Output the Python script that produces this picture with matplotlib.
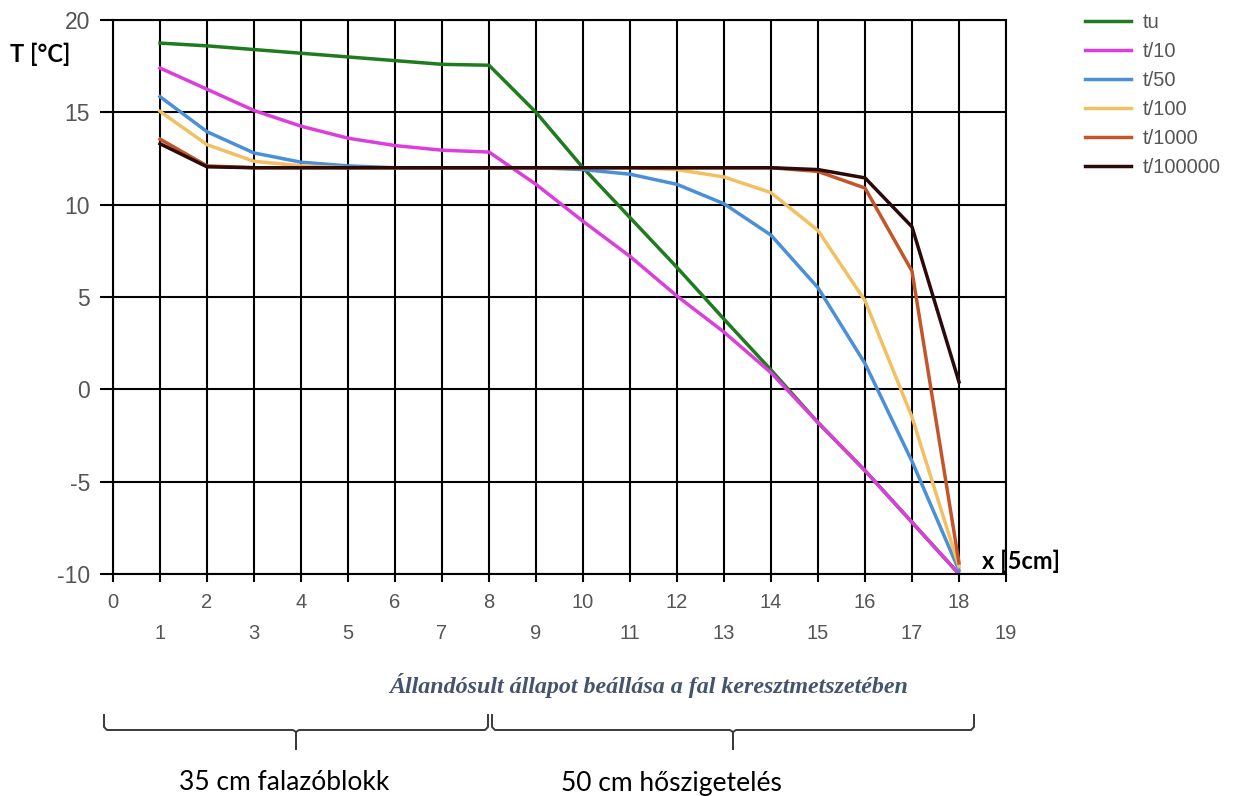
import matplotlib.pyplot as plt
import numpy as np

plt.rcParams["font.family"] = "Liberation Sans"
plt.rcParams["axes.unicode_minus"] = False

x = list(range(1, 19))

tu = [18.75, 18.6, 18.4, 18.2, 18.0, 17.8, 17.6, 17.55, 15.0, 12.0,
      9.3, 6.6, 3.8, 1.05, -1.8, -4.4, -7.2, -10.0]
t10 = [17.4, 16.25, 15.1, 14.25, 13.6, 13.2, 12.95, 12.85, 11.1, 9.1,
       7.2, 5.05, 3.1, 0.9, -1.8, -4.4, -7.2, -10.0]
t50 = [15.85, 13.95, 12.8, 12.3, 12.1, 12.0, 12.0, 12.0, 12.0, 11.9,
       11.65, 11.1, 10.05, 8.35, 5.5, 1.4, -3.9, -9.8]
t100 = [15.05, 13.25, 12.35, 12.1, 12.0, 12.0, 12.0, 12.0, 12.0, 12.0,
        12.0, 11.9, 11.5, 10.65, 8.6, 4.8, -1.5, -9.6]
t1000 = [13.55, 12.1, 12.0, 12.0, 12.0, 12.0, 12.0, 12.0, 12.0, 12.0,
         12.0, 12.0, 12.0, 12.0, 11.8, 10.9, 6.4, -9.4]
t100000 = [13.3, 12.05, 12.0, 12.0, 12.0, 12.0, 12.0, 12.0, 12.0, 12.0,
           12.0, 12.0, 12.0, 12.0, 11.9, 11.45, 8.8, 0.4]

names = ["tu", "t/10", "t/50", "t/100", "t/1000", "t/100000"]
series = [tu, t10, t50, t100, t1000, t100000]
colors = ["#1e7b1e", "#dc3edc", "#4a8fd8", "#f2c062", "#c4552a", "#2b0a0a"]

W, H = 1240, 796
fig = plt.figure(figsize=(W / 100, H / 100), dpi=100)
ax = fig.add_axes([113 / W, 1 - 574 / H, (1006 - 113) / W, (574 - 20) / H])

for ys, name, c in zip(series, names, colors):
    ax.plot(x, ys, color=c, lw=2.5, label=name)

ax.set_xlim(0, 19)
ax.set_ylim(-10, 20)
ax.set_yticks(np.arange(-10, 21, 5))
ax.set_xticks(range(0, 19, 2))
ax.set_xticks(range(1, 20, 2), minor=True)
ax.set_xticklabels([str(v) for v in range(0, 19, 2)])
ax.set_xticklabels([str(v) for v in range(1, 20, 2)], minor=True)

ax.grid(True, which="both", color="black", lw=1.5)
ax.set_axisbelow(True)
for s in ax.spines.values():
    s.set_color("black")
    s.set_linewidth(1.5)

ax.tick_params(axis="y", length=9.4, width=1.5, pad=7, labelsize=16.5,
               labelcolor="#555555")
ax.tick_params(axis="x", which="major", length=5.8, width=1.5, pad=8,
               labelsize=14.5, labelcolor="#555555")
ax.tick_params(axis="x", which="minor", length=5.8, width=1.5, pad=30,
               labelsize=14.5, labelcolor="#555555")

fig.legend(loc="upper left", bbox_to_anchor=(1085 / W, 1 - 13 / H),
           frameon=False, fontsize=14.5, handlelength=2.3, handletextpad=0.55,
           labelspacing=0.5, borderaxespad=0, borderpad=0,
           labelcolor="#555555")

fig.text(10 / W, 1 - 54 / H, "T [°C]", fontsize=17, fontweight="bold",
         family="Lato", va="center", ha="left")
fig.text(982 / W, 1 - 561 / H, "x [5cm]", fontsize=17, fontweight="bold",
         family="Lato", va="center", ha="left")

fig.text(649 / W, 1 - 685 / H, "Állandósult állapot beállása a fal keresztmetszetében",
         fontsize=17.3, fontweight="bold", style="italic", family="Liberation Serif",
         color="#44546e", ha="center", va="center")

# braces under the axis
ov = fig.add_axes([0, 0, 1, 1])
ov.set_xlim(0, W)
ov.set_ylim(H, 0)
ov.axis("off")
for x0, x1, xm in [(104, 488, 296), (492, 974, 733)]:
    ov.plot([x0, x0, x0 + 3, xm - 3, xm, xm, xm, xm + 3, x1 - 3, x1, x1],
            [715, 727, 730, 730, 732, 749, 732, 730, 730, 727, 715],
            color="#3a3a3a", lw=1.4)

fig.text(284 / W, 1 - 783 / H, "35 cm falazóblokk", fontsize=19,
         family="Lato", ha="center", va="center")
fig.text(671 / W, 1 - 783 / H, "50 cm hőszigetelés", fontsize=19,
         family="Lato", ha="center", va="center")

fig.savefig("out.png", dpi=100)
